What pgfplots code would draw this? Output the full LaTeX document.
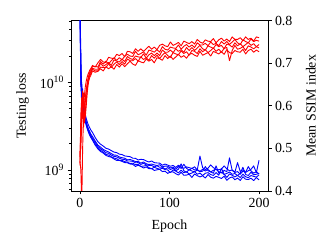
\documentclass[border=0pt]{standalone}
\usepackage{fontspec}
\setmainfont{Liberation Serif}
\usepackage{pgfplots}
\usepackage{pgfplotstable}
\pgfplotsset{compat=1.18}
\pgfplotstableread{
e b1 b2 b3 b4 b5 r1 r2 r3 r4 r5
0 90 70 80 100 60 0.466 0.470 0.480 0.460 0.490
1 12 9 20 10 15 0.550 0.450 0.530 0.580 0.500
2 6.5 10 7 5.5 8 0.600 0.370 0.590 0.620 0.560
3 8.5 5 6 7.5 4.8 0.635 0.500 0.620 0.570 0.600
4 5 6.5 4.6 5.2 4.2 0.600 0.580 0.550 0.625 0.630
5 4.6 4.4 5.2 4.1 3.8 0.625 0.600 0.580 0.600 0.560
6 4.3 3.9 4.0 3.7 3.55 0.645 0.620 0.610 0.585 0.575
7 3.9 3.55 3.5 3.35 3.25 0.658 0.637 0.632 0.612 0.600
8 3.6 3.25 3.2 3.05 3.0 0.667 0.652 0.647 0.636 0.628
9 3.35 3.05 2.95 2.85 2.8 0.674 0.664 0.660 0.653 0.648
10 3.18 2.88 2.78 2.68 2.62 0.679 0.673 0.669 0.665 0.660
11 3.02 2.74 2.64 2.55 2.49 0.684 0.679 0.675 0.671 0.667
12 2.88 2.6 2.51 2.43 2.37 0.687 0.683 0.679 0.675 0.671
14 2.70 2.42 2.31 2.23 2.20 0.695 0.692 0.688 0.686 0.682
17 2.36 2.155 2.085 2.003 1.932 0.691 0.693 0.686 0.682 0.679
20 2.115 1.931 1.873 1.812 1.752 0.701 0.691 0.686 0.682 0.681
23 1.977 1.833 1.751 1.681 1.631 0.709 0.704 0.700 0.691 0.687
26 1.886 1.722 1.676 1.606 1.569 0.703 0.698 0.693 0.690 0.682
29 1.779 1.666 1.585 1.515 1.475 0.702 0.705 0.697 0.690 0.692
32 1.742 1.612 1.558 1.488 1.433 0.714 0.699 0.702 0.699 0.687
35 1.673 1.547 1.487 1.420 1.408 0.712 0.706 0.695 0.690 0.692
38 1.608 1.488 1.438 1.377 1.344 0.711 0.713 0.708 0.698 0.686
41 1.588 1.481 1.419 1.349 1.292 0.721 0.707 0.705 0.703 0.697
44 1.524 1.414 1.370 1.298 1.292 0.718 0.713 0.703 0.697 0.691
47 1.509 1.390 1.334 1.295 1.260 0.723 0.708 0.710 0.704 0.699
50 1.455 1.369 1.325 1.254 1.221 0.715 0.717 0.704 0.698 0.692
53 1.440 1.312 1.272 1.233 1.215 0.728 0.721 0.716 0.710 0.699
56 1.425 1.325 1.273 1.192 1.177 0.727 0.717 0.711 0.706 0.705
59 1.371 1.293 1.262 1.202 1.166 0.723 0.716 0.709 0.706 0.698
62 1.365 1.255 1.215 1.155 1.105 0.734 0.728 0.717 0.711 0.695
65 1.310 1.260 1.220 1.165 1.140 0.728 0.720 0.715 0.705 0.706
68 1.330 1.205 1.165 1.105 1.105 0.734 0.723 0.714 0.715 0.703
71 1.320 1.240 1.200 1.115 1.060 0.728 0.727 0.722 0.709 0.701
74 1.275 1.185 1.150 1.130 1.090 0.734 0.719 0.712 0.713 0.710
77 1.240 1.160 1.135 1.070 1.040 0.740 0.731 0.720 0.707 0.705
80 1.275 1.175 1.135 1.040 1.045 0.733 0.729 0.724 0.718 0.709
83 1.220 1.150 1.090 1.080 0.995 0.738 0.726 0.718 0.712 0.701
86 1.210 1.130 1.125 1.050 1.010 0.732 0.732 0.724 0.719 0.713
89 1.205 1.155 1.080 1.025 1.025 0.742 0.726 0.718 0.711 0.711
92 1.140 1.090 1.085 1.055 0.965 0.745 0.739 0.731 0.719 0.707
95 1.175 1.115 1.030 1.015 0.975 0.741 0.733 0.726 0.725 0.718
98 1.145 1.110 1.070 1.010 0.920 0.739 0.731 0.726 0.718 0.711
101 1.109 1.059 1.019 0.941 0.954 0.750 0.738 0.731 0.714 0.717
104 1.134 1.084 1.051 1.008 0.958 0.742 0.736 0.725 0.725 0.709
107 1.075 1.025 0.985 0.977 0.913 0.745 0.735 0.734 0.722 0.715
110 1.142 1.102 1.027 0.932 0.882 0.749 0.743 0.728 0.720 0.721
113 1.083 1.050 1.180 1.002 0.949 0.741 0.733 0.732 0.729 0.714
116 1.052 1.170 0.986 0.936 0.876 0.752 0.740 0.726 0.723 0.718
119 1.091 1.051 0.948 0.961 0.880 0.749 0.744 0.737 0.727 0.712
122 1.070 1.002 1.018 0.905 0.901 0.746 0.738 0.730 0.719 0.721
125 1.046 1.055 0.980 0.930 0.828 0.751 0.743 0.737 0.730 0.723
128 1.095 1.006 0.959 0.965 0.905 0.745 0.737 0.730 0.728 0.719
131 1.008 1.017 1.005 0.899 0.867 0.756 0.748 0.736 0.723 0.716
134 1.450 0.968 0.963 0.927 0.839 0.750 0.743 0.742 0.734 0.728
137 1.068 1.028 0.974 0.868 0.864 0.747 0.743 0.734 0.727 0.719
140 1.019 0.979 1.100 0.924 0.815 0.755 0.747 0.731 0.732 0.722
143 1.054 1.021 0.988 0.938 0.892 0.752 0.741 0.741 0.725 0.725
146 1.150 0.955 0.957 0.893 0.833 0.751 0.750 0.738 0.730 0.717
149 1.072 0.997 0.922 0.872 0.812 0.758 0.744 0.735 0.736 0.728
152 1.020 1.022 1.120 0.939 0.851 0.748 0.747 0.744 0.728 0.725
155 1.013 0.966 0.926 0.876 0.830 0.755 0.741 0.739 0.733 0.722
158 1.031 0.928 0.951 1.050 0.806 0.759 0.751 0.742 0.726 0.727
161 1.120 0.998 0.895 0.901 0.855 0.752 0.745 0.734 0.735 0.721
164 1.035 0.960 0.920 0.828 0.768 0.757 0.751 0.745 0.737 0.732
167 0.986 1.380 0.955 0.905 0.817 0.751 0.744 0.743 0.706 0.725
170 1.007 0.995 0.899 0.877 0.838 0.762 0.750 0.738 0.730 0.723
173 0.948 0.943 0.917 0.839 0.779 0.756 0.756 0.748 0.742 0.730
176 1.220 0.964 0.868 0.874 0.814 0.756 0.748 0.741 0.733 0.727
179 0.969 0.901 0.924 0.825 0.765 0.760 0.744 0.746 0.735 0.726
182 1.011 0.978 1.080 0.902 0.842 0.753 0.755 0.739 0.739 0.733
185 0.945 0.947 0.893 0.843 0.790 0.762 0.751 0.744 0.730 0.722
188 0.987 1.100 0.872 0.822 0.783 0.756 0.748 0.749 0.741 0.730
191 1.022 0.982 0.949 0.871 0.811 0.759 0.757 0.742 0.738 0.733
194 1.120 0.926 0.886 0.850 0.762 0.752 0.751 0.746 0.734 0.726
197 0.938 0.961 0.900 0.836 0.825 0.762 0.754 0.739 0.739 0.731
200 1.300 0.905 0.921 0.885 0.776 0.760 0.752 0.744 0.736 0.727
}\data
\begin{document}
\begin{tikzpicture}
\path[use as bounding box] (0,0) rectangle (332pt,249pt);
\pgfplotsset{every axis/.append style={
  font=\fontsize{13.9}{16}\selectfont,
  scale only axis, width=197pt, height=170.3pt,
  at={(71pt,58pt)}, anchor=south west,
  xmin=-10, xmax=210,
  /pgf/number format/assume math mode=true,
  tick align=outside,
  major tick length=3.5pt, minor tick length=2pt,
  tick style={black, line width=0.8pt},
  axis line style={line width=0.8pt},
}}
\begin{axis}[
  ymode=log, ymin=5.8e8, ymax=5.05e10,
  tick pos=left,
  xtick={0,100,200},
  ytick={1e9,1e10},
  yticklabels={10\textsuperscript{9},10\textsuperscript{10}},
  minor ytick={6e8,7e8,8e8,9e8,2e9,3e9,4e9,5e9,6e9,7e9,8e9,9e9,2e10,3e10,4e10,5e10},
  xlabel={Epoch}, ylabel={Testing loss},
  xlabel style={at={(axis description cs:0.5,-0.2043)}, anchor=center},
  ylabel style={at={(axis description cs:-0.246,0.5)}, anchor=center},
]
\addplot[blue, line width=0.9pt, line join=round] table[x=e, y expr=\thisrow{b1}*1e9]{\data};
\addplot[blue, line width=0.9pt, line join=round] table[x=e, y expr=\thisrow{b2}*1e9]{\data};
\addplot[blue, line width=0.9pt, line join=round] table[x=e, y expr=\thisrow{b3}*1e9]{\data};
\addplot[blue, line width=0.9pt, line join=round] table[x=e, y expr=\thisrow{b4}*1e9]{\data};
\addplot[blue, line width=0.9pt, line join=round] table[x=e, y expr=\thisrow{b5}*1e9]{\data};
\end{axis}
\begin{axis}[
  axis x line=none, axis y line*=right,
  ymin=0.4, ymax=0.8,
  ytick={0.4,0.5,0.6,0.7,0.8},
  yticklabel style={/pgf/number format/.cd, fixed, fixed zerofill, precision=1},
  ylabel={Mean SSIM index},
  ylabel style={at={(axis description cs:1.2173,0.5)}, anchor=center},
]
\addplot[red, line width=0.9pt, line join=round] table[x=e, y=r1]{\data};
\addplot[red, line width=0.9pt, line join=round] table[x=e, y=r2]{\data};
\addplot[red, line width=0.9pt, line join=round] table[x=e, y=r3]{\data};
\addplot[red, line width=0.9pt, line join=round] table[x=e, y=r4]{\data};
\addplot[red, line width=0.9pt, line join=round] table[x=e, y=r5]{\data};
\end{axis}
\end{tikzpicture}
\end{document}
